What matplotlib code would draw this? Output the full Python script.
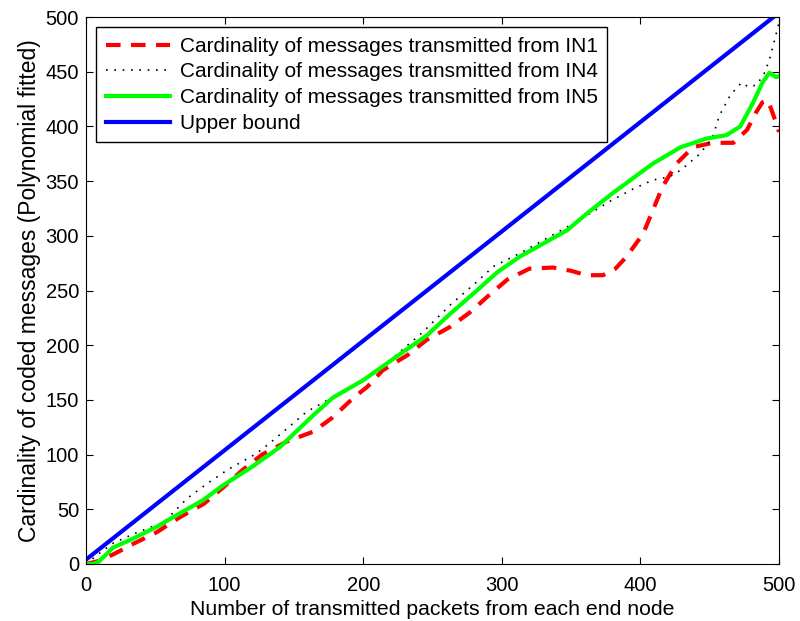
import numpy as np
import matplotlib.pyplot as plt

plt.rcParams['font.family'] = ['Liberation Sans', 'DejaVu Sans']

# IN1 (red dashed)
in1_x = [0, 10, 20, 35, 51, 68, 85, 99, 113, 127, 145, 164, 178, 193, 203, 214, 232,
         246, 263, 277, 291, 304, 320, 337, 350, 361, 373, 382, 390, 402, 416, 426,
         438, 452, 467, 477, 483, 488, 492, 496, 500]
in1_y = [0, 3, 9, 19, 29, 43, 55, 70, 86, 100, 112, 121, 134, 152, 162, 177, 191,
         205, 217, 230, 246, 260, 270, 271, 268, 264, 264, 270, 281, 302, 345, 366,
         381, 385, 385, 397, 412, 422, 424, 410, 395]

# IN4 (black dotted)
in4_x = [0, 3, 10, 19.5, 37, 56, 73, 88, 102, 123, 135, 159, 183, 200, 222, 243, 263,
         282, 294, 313, 330, 347, 363, 380, 395, 409, 421, 429, 443, 452, 457, 465,
         473, 478, 484, 490, 494, 497, 500]
in4_y = [0, 3, 10, 19, 29, 38, 60, 74, 86, 101, 113, 139, 156, 168, 189, 212, 237,
         258, 272, 284, 296, 308, 320, 333, 343, 351, 354, 360, 375, 390, 410, 429,
         440, 436, 438, 450, 465, 480, 495]

# IN5 (green solid)
in5_x = [0, 5, 9, 14, 19.5, 32, 51, 68, 84, 99, 120, 140, 164, 178, 200, 229, 246,
         263, 282, 297, 313, 330, 347, 363, 380, 395, 409, 429, 448, 462, 472, 481,
         488, 493, 498, 500]
in5_y = [0, 0, 2, 8, 15, 22, 34, 46.5, 58, 72, 89, 107, 136, 152, 168, 194, 209,
         229, 250, 267, 281, 293, 305, 322, 339, 353, 366, 381, 389, 392, 400, 421,
         440, 449, 445, 446]

# upper bound (blue)
ub_x = [0, 500]
ub_y = [4, 504]

fig = plt.figure(figsize=(8, 6.21), dpi=100)
ax = fig.add_axes([0.1075, 0.0918, 0.8663, 0.8808])

ax.plot(in1_x, in1_y, color='#ff0000', linestyle=(0, (3.5, 2.5)), linewidth=3,
        label='Cardinality of messages transmitted from IN1')
ax.plot(in4_x, in4_y, color='black', linestyle=(0, (1, 4)), linewidth=1.2,
        label='Cardinality of messages transmitted from IN4')
ax.plot(in5_x, in5_y, color='#00ff00', linewidth=3,
        label='Cardinality of messages transmitted from IN5')
ax.plot(ub_x, ub_y, color='#0000ff', linewidth=3, label='Upper bound')

ax.set_xlim(0, 500)
ax.set_ylim(0, 500)
ax.set_xticks(np.arange(0, 501, 100))
ax.set_yticks(np.arange(0, 501, 50))
ax.tick_params(direction='in', top=True, right=True, labelsize=14.5, length=5, pad=5)
ax.tick_params(axis='x', pad=9)
ax.set_xlabel('Number of transmitted packets from each end node', fontsize=15.3, labelpad=3)
ax.set_ylabel('Cardinality of coded messages (Polynomial fitted)', fontsize=16.5, labelpad=3)

leg = ax.legend(loc='upper left', fontsize=15, fancybox=False, framealpha=1,
                edgecolor='black', handlelength=3.1, handletextpad=0.45,
                borderaxespad=0.5, labelspacing=0.32, borderpad=0.45)
leg.get_frame().set_linewidth(1)

fig.savefig('out.png', dpi=100)
